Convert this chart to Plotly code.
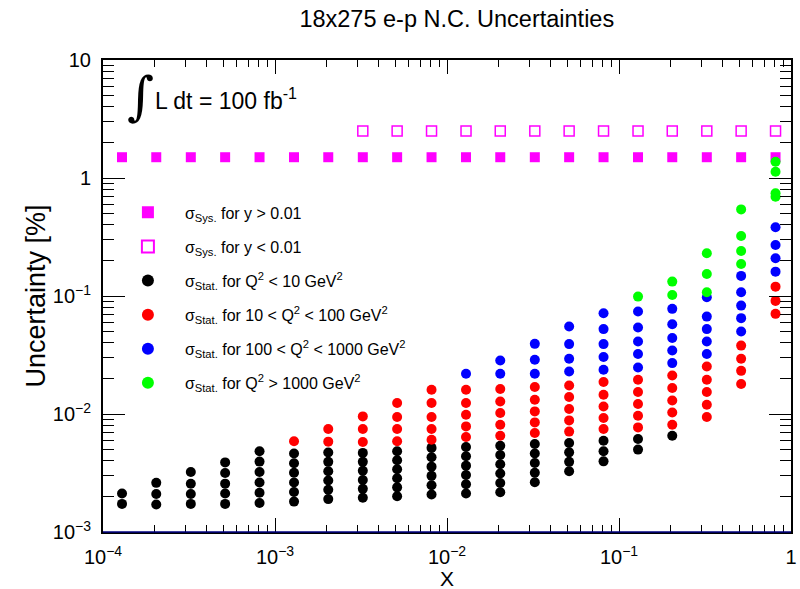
import plotly.graph_objects as go

# ---------------- data ----------------
x_bins = [1.29e-4, 2.04e-4, 3.24e-4, 5.13e-4, 8.13e-4,
          1.29e-3, 2.04e-3, 3.24e-3, 5.13e-3, 8.13e-3,
          1.29e-2, 2.04e-2, 3.24e-2, 5.13e-2, 8.13e-2,
          0.129, 0.204, 0.324, 0.513, 0.813]

sys_y_high = [1.5, 1.5, 1.5, 1.5, 1.5, 1.5, 1.5, 1.5, 1.5, 1.5,
              1.5, 1.5, 1.5, 1.5, 1.5, 1.5, 1.5, 1.5, 1.5, 1.5]
sys_y_low = [None, None, None, None, None, None, None, 2.5, 2.5, 2.5,
             2.5, 2.5, 2.5, 2.5, 2.5, 2.5, 2.5, 2.5, 2.5, 2.5]

stat_q2_lt10 = [
    [2.12e-3, 1.73e-3],
    [2.61e-3, 2.10e-3, 1.71e-3],
    [3.22e-3, 2.56e-3, 2.10e-3, 1.73e-3],
    [3.89e-3, 3.16e-3, 2.57e-3, 2.12e-3, 1.73e-3],
    [4.83e-3, 3.95e-3, 3.22e-3, 2.63e-3, 2.15e-3, 1.76e-3],
    [4.62e-3, 3.83e-3, 3.18e-3, 2.63e-3, 2.18e-3, 1.81e-3],
    [4.71e-3, 3.93e-3, 3.27e-3, 2.73e-3, 2.28e-3, 1.90e-3],
    [4.68e-3, 3.93e-3, 3.30e-3, 2.76e-3, 2.32e-3, 1.95e-3],
    [4.83e-3, 4.05e-3, 3.40e-3, 2.85e-3, 2.39e-3, 2.01e-3],
    [5.16e-3, 4.30e-3, 3.58e-3, 2.99e-3, 2.49e-3, 2.08e-3],
    [5.26e-3, 4.38e-3, 3.65e-3, 3.04e-3, 2.54e-3, 2.12e-3],
    [5.39e-3, 4.50e-3, 3.75e-3, 3.13e-3, 2.60e-3, 2.17e-3],
    [5.57e-3, 4.62e-3, 3.84e-3, 3.18e-3, 2.64e-3],
    [5.68e-3, 4.73e-3, 3.93e-3, 3.27e-3],
    [5.94e-3, 4.83e-3, 3.97e-3],
    [6.14e-3, 4.99e-3],
    [6.55e-3],
    [], [], [],
]

stat_q2_10_100 = [
    [], [], [], [], [],
    [5.87e-3],
    [7.46e-3, 5.83e-3],
    [9.54e-3, 7.46e-3, 5.80e-3],
    [1.239e-2, 9.43e-3, 7.46e-3, 5.87e-3],
    [1.605e-2, 1.239e-2, 9.43e-3, 7.46e-3, 6.06e-3],
    [1.605e-2, 1.239e-2, 9.86e-3, 7.85e-3, 6.39e-3],
    [1.627e-2, 1.278e-2, 1.020e-2, 8.11e-3, 6.55e-3],
    [1.692e-2, 1.321e-2, 1.052e-2, 8.49e-3, 6.91e-3],
    [1.746e-2, 1.392e-2, 1.102e-2, 8.83e-3, 7.09e-3],
    [1.865e-2, 1.457e-2, 1.159e-2, 9.25e-3, 7.46e-3],
    [1.950e-2, 1.535e-2, 1.215e-2, 9.67e-3, 7.70e-3],
    [2.12e-2, 1.660e-2, 1.303e-2, 1.031e-2, 8.11e-3],
    [2.53e-2, 1.950e-2, 1.535e-2, 1.199e-2, 9.43e-3],
    [3.80e-2, 2.94e-2, 2.32e-2, 1.794e-2],
    [0.120, 9.09e-2, 7.06e-2],
]

stat_q2_100_1000 = [
    [], [], [], [], [], [], [], [], [], [],
    [2.19e-2],
    [2.84e-2, 2.19e-2],
    [3.93e-2, 2.88e-2, 2.19e-2],
    [5.51e-2, 3.91e-2, 2.94e-2, 2.29e-2],
    [7.15e-2, 5.24e-2, 3.91e-2, 3.04e-2, 2.37e-2],
    [7.38e-2, 5.40e-2, 4.11e-2, 3.22e-2, 2.48e-2],
    [7.78e-2, 5.77e-2, 4.40e-2, 3.45e-2, 2.70e-2],
    [9.77e-2, 6.69e-2, 5.24e-2, 4.11e-2, 3.22e-2],
    [0.148, 0.1076, 8.29e-2, 6.49e-2, 5.00e-2],
    [0.382, 0.2706, 0.2088, 0.1608],
]

stat_q2_gt1000 = [
    [], [], [], [], [], [], [], [], [], [],
    [], [], [], [], [],
    [0.0988],
    [0.1324, 0.1021],
    [0.2302, 0.1538, 0.1076],
    [0.542, 0.3225, 0.2408, 0.1869],
    [1.372, 1.129, 0.741, 0.693],
]

x_tick_vals = [1e-4, 1e-3, 1e-2, 1e-1, 1]
x_tick_text = ["10<sup>−4</sup>", "10<sup>−3</sup>", "10<sup>−2</sup>", "10<sup>−1</sup>", "1"]
y_tick_vals = [1e-3, 1e-2, 1e-1, 1, 10]
y_tick_text = ["10<sup>−3</sup>", "10<sup>−2</sup>", "10<sup>−1</sup>", "1", "10"]

legend_names = [
    "σ<sub>Sys.</sub> for y > 0.01",
    "σ<sub>Sys.</sub> for y < 0.01",
    "σ<sub>Stat.</sub> for Q<sup>2</sup> < 10 GeV<sup>2</sup>",
    "σ<sub>Stat.</sub> for 10 < Q<sup>2</sup> < 100 GeV<sup>2</sup>",
    "σ<sub>Stat.</sub> for 100 < Q<sup>2</sup> < 1000 GeV<sup>2</sup>",
    "σ<sub>Stat.</sub> for Q<sup>2</sup> > 1000 GeV<sup>2</sup>",
]


def flatten(cols):
    xs, ys = [], []
    for xb, vals in zip(x_bins, cols):
        for v in vals:
            xs.append(xb)
            ys.append(v)
    return xs, ys


FONT = "Liberation Sans, Arial, sans-serif"
fig = go.Figure()

fig.add_trace(go.Scatter(x=x_bins, y=sys_y_high, mode="markers", name=legend_names[0],
                         legendgroup="g0",
                         marker=dict(symbol="square", size=10, color="#ff00ff", line=dict(width=0))))
fig.add_trace(go.Scatter(x=x_bins, y=sys_y_low, mode="markers", name=legend_names[1],
                         legendgroup="g1",
                         marker=dict(symbol="square-open", size=10, color="#ff00ff",
                                     line=dict(width=1.5, color="#ff00ff"))))

for i, (cols, col) in enumerate([(stat_q2_lt10, "#000000"), (stat_q2_10_100, "#ff0000"),
                                 (stat_q2_100_1000, "#0000ff"), (stat_q2_gt1000, "#00ff00")]):
    xs, ys = flatten(cols)
    fig.add_trace(go.Scatter(x=xs, y=ys, mode="markers", name=legend_names[i + 2],
                             legendgroup="g%d" % (i + 2),
                             marker=dict(symbol="circle", size=10, color=col, line=dict(width=0))))

minor_vals = [m * 10.0 ** e for e in range(-4, 1) for m in range(2, 10)]

fig.update_layout(
    width=800, height=589,
    margin=dict(l=103, r=3, t=60, b=57),
    paper_bgcolor="white", plot_bgcolor="white",
    font=dict(family=FONT, color="black"),
    title=dict(text="18x275 e-p N.C. Uncertainties", x=0.571, xref="container", xanchor="center",
               y=1 - 19 / 589, yref="container", yanchor="middle",
               font=dict(size=23.5, family=FONT, color="black")),
    showlegend=True,
    legend=dict(x=0.0115, y=0.713, xanchor="left", yanchor="top", bgcolor="rgba(0,0,0,0)",
                font=dict(size=16, family=FONT), itemwidth=64, tracegroupgap=10.3,
                itemsizing="constant"),
    xaxis=dict(type="log", range=[-4, 0], showgrid=False, zeroline=False,
               showline=True, linewidth=2, linecolor="black", mirror="allticks",
               ticks="inside", ticklen=14, tickwidth=1, tickcolor="black",
               tickmode="array", tickvals=x_tick_vals, ticktext=x_tick_text,
               tickfont=dict(size=20), ticklabelstandoff=6, ticklabeloverflow="allow",
               minor=dict(ticks="inside", ticklen=7, tickwidth=1, tickcolor="black",
                          tickvals=minor_vals, showgrid=False)),
    yaxis=dict(type="log", range=[-3, 1], showgrid=False, zeroline=False,
               showline=True, linewidth=2, linecolor="black", mirror="allticks",
               ticks="inside", ticklen=22, tickwidth=1, tickcolor="black",
               tickmode="array", tickvals=y_tick_vals, ticktext=y_tick_text,
               tickfont=dict(size=20), ticklabelstandoff=6, ticklabeloverflow="allow",
               minor=dict(ticks="inside", ticklen=11, tickwidth=1, tickcolor="black",
                          tickvals=minor_vals, showgrid=False)),
    shapes=[dict(type="line", xref="paper", yref="paper", x0=0, x1=1, y0=0, y1=0,
                 line=dict(color="#000080", width=1.5))],
    annotations=[
        dict(text="X", xref="paper", yref="paper", x=0.5, y=(532 - 578) / 472, xanchor="center",
             yanchor="middle", showarrow=False, font=dict(size=21, family=FONT)),
        dict(text="Uncertainty [%]", xref="paper", yref="paper", x=(35 - 103) / 694, y=0.5,
             xanchor="center", yanchor="middle", textangle=-90, showarrow=False,
             font=dict(size=27, family=FONT)),
        dict(text="∫", xref="paper", yref="paper", x=(141 - 103) / 694, y=(532 - 96) / 472,
             xanchor="center", yanchor="middle", showarrow=False,
             font=dict(size=52, family="DejaVu Serif")),
        dict(text="L dt = 100 fb<sup>-1</sup>", xref="paper", yref="paper",
             x=(153 - 103) / 694, y=(532 - 99) / 472, xanchor="left", yanchor="middle",
             showarrow=False, font=dict(size=23, family=FONT)),
    ],
)

fig.write_html("out.html")
